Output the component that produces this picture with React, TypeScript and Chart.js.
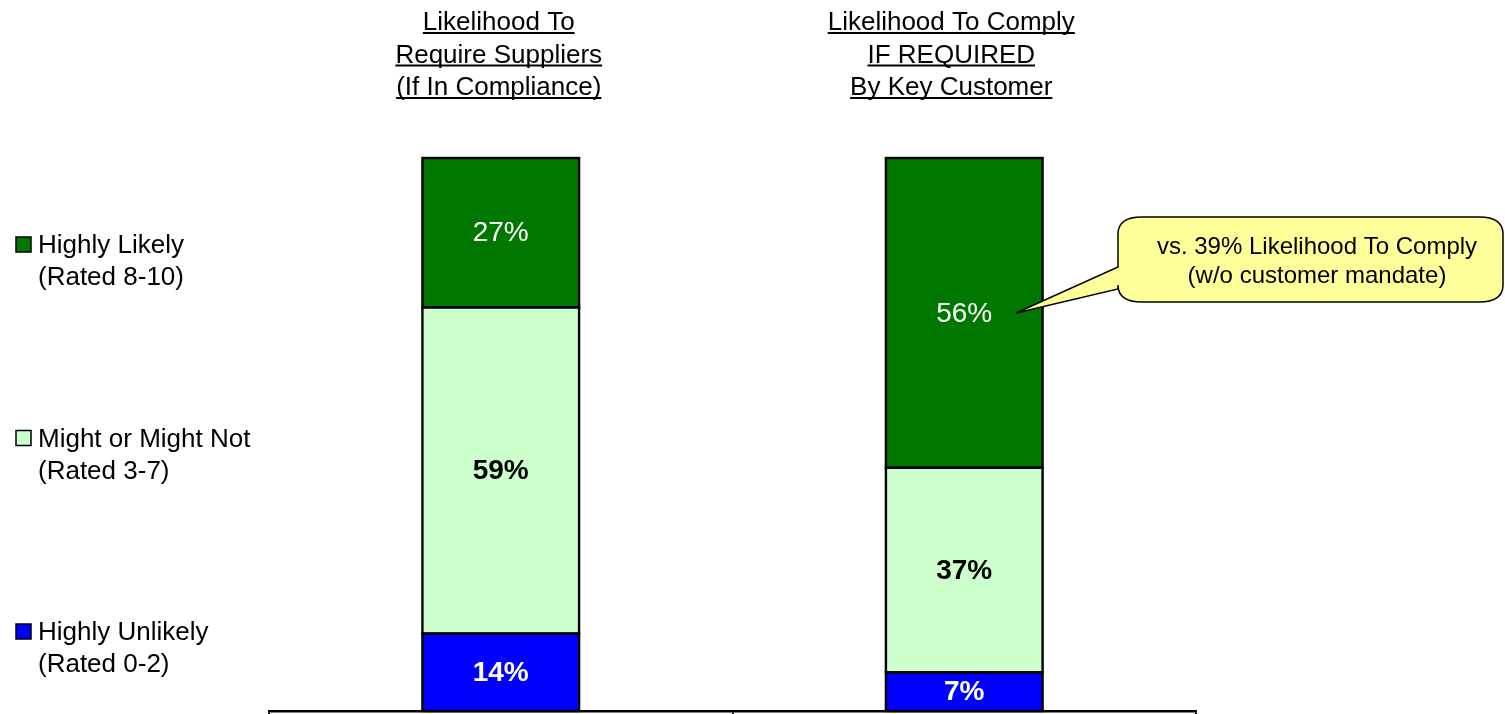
import React, { useEffect, useRef } from "react";
import { Chart, registerables } from "chart.js";

Chart.register(...registerables);

const categories = ["Likelihood To Require Suppliers (If In Compliance)", "Likelihood To Comply IF REQUIRED By Key Customer"];
const titleLines = [
  ["Likelihood To", "Require Suppliers", "(If In Compliance)"],
  ["Likelihood To Comply", "IF REQUIRED", "By Key Customer"],
];
const seriesNames = ["Highly Unlikely", "Might or Might Not", "Highly Likely"];
const seriesSubNames = ["(Rated 0-2)", "(Rated 3-7)", "(Rated 8-10)"];
const highlyUnlikely = [14, 7];
const mightOrMightNot = [59, 37];
const highlyLikely = [27, 56];
const calloutLines = ["vs. 39% Likelihood To Comply", "(w/o customer mandate)"];

const FONT = "'Liberation Sans', Arial, Helvetica, sans-serif";
const colors = ["#0000FF", "#CCFFCC", "#007800"];
const labelColors = ["#FFFFFF", "#000000", "#FFFFFF"];
const labelWeights = ["bold", "bold", "normal"];

const overlayPlugin = {
  id: "overlay",
  afterDatasetsDraw(chart: any) {
    const ctx = chart.ctx;
    const xs = chart.scales.x;
    ctx.save();
    // bar outlines (shared edges drawn once, centred on the boundary)
    chart.data.datasets.forEach((ds: any, i: number) => {
      const meta = chart.getDatasetMeta(i);
      meta.data.forEach((el: any) => {
        const p = el.getProps(["x", "y", "base", "width"], true);
        ctx.strokeStyle = "#000";
        ctx.lineWidth = 2.4;
        ctx.strokeRect(p.x - p.width / 2, p.y, p.width, p.base - p.y);
      });
    });
    // data labels
    chart.data.datasets.forEach((ds: any, i: number) => {
      const meta = chart.getDatasetMeta(i);
      meta.data.forEach((el: any, j: number) => {
        const p = el.getProps(["x", "y", "base"], true);
        ctx.font = `${labelWeights[i]} 28px ${FONT}`;
        ctx.fillStyle = labelColors[i];
        ctx.textAlign = "center";
        ctx.textBaseline = "middle";
        ctx.fillText(`${ds.data[j]}%`, p.x, (p.y + p.base) / 2 + 1);
      });
    });

    // titles (underlined)
    const titleOffsets = [-2, -13];
    titleLines.forEach((lines, i) => {
      const cx = xs.getPixelForValue(i) + titleOffsets[i];
      lines.forEach((t, k) => {
        const by = 30 + k * 32.5;
        ctx.font = `26px ${FONT}`;
        ctx.fillStyle = "#000";
        ctx.textAlign = "center";
        ctx.textBaseline = "alphabetic";
        ctx.fillText(t, cx, by);
        const w = ctx.measureText(t).width;
        ctx.fillRect(cx - w / 2, by + 2, w, 2);
      });
    });

    // legend (top to bottom: reverse of stack order)
    const legendBase = [640, 446.5, 253];
    for (let i = 0; i < seriesNames.length; i++) {
      const by = legendBase[i];
      ctx.fillStyle = colors[i];
      ctx.fillRect(16, by - 16, 15, 15);
      ctx.strokeStyle = "#000";
      ctx.lineWidth = 1.5;
      ctx.strokeRect(16, by - 16, 15, 15);
      ctx.fillStyle = "#000";
      ctx.font = `26px ${FONT}`;
      ctx.textAlign = "left";
      ctx.textBaseline = "alphabetic";
      ctx.fillText(seriesNames[i], 38, by);
      ctx.fillText(seriesSubNames[i], 38, by + 32);
    }

    // callout
    const L = 1118, R = 1503, T = 217, B = 302, rx = 24, ry = 17;
    const tipX = 1016, tipY = 313, y1 = 267, y2 = 289;
    ctx.beginPath();
    ctx.moveTo(L + rx, T);
    ctx.lineTo(R - rx, T);
    ctx.quadraticCurveTo(R, T, R, T + ry);
    ctx.lineTo(R, B - ry);
    ctx.quadraticCurveTo(R, B, R - rx, B);
    ctx.lineTo(L + rx, B);
    ctx.quadraticCurveTo(L, B, L, B - ry);
    ctx.lineTo(L, y2);
    ctx.lineTo(tipX, tipY);
    ctx.lineTo(L, y1);
    ctx.lineTo(L, T + ry);
    ctx.quadraticCurveTo(L, T, L + rx, T);
    ctx.closePath();
    ctx.fillStyle = "#FFFF99";
    ctx.fill();
    ctx.strokeStyle = "#000";
    ctx.lineWidth = 1.5;
    ctx.stroke();
    ctx.fillStyle = "#000";
    ctx.font = `24px ${FONT}`;
    ctx.textAlign = "center";
    ctx.textBaseline = "alphabetic";
    ctx.fillText(calloutLines[0], 1317, 254);
    ctx.fillText(calloutLines[1], 1317, 283);
    ctx.restore();
  },
};

export default function App() {
  const ref = useRef<HTMLCanvasElement | null>(null);
  useEffect(() => {
    document.body.style.margin = "0";
    const canvas = ref.current!;
    const chart = new Chart(canvas, {
      type: "bar",
      data: {
        labels: categories,
        datasets: [
          { label: seriesNames[0], data: highlyUnlikely, backgroundColor: colors[0] },
          { label: seriesNames[1], data: mightOrMightNot, backgroundColor: colors[1] },
          { label: seriesNames[2], data: highlyLikely, backgroundColor: colors[2] },
        ].map((d) => ({
          ...d,
          borderWidth: 0,
          inflateAmount: 0,
          barPercentage: 0.338,
          categoryPercentage: 1,
        })),
      },
      options: {
        responsive: false,
        animation: false,
        layout: { padding: { left: 269, right: 309, top: 158, bottom: 9 } },
        plugins: { legend: { display: false }, tooltip: { enabled: false } },
        scales: {
          x: {
            stacked: true,
            ticks: { display: false },
            grid: {
              offset: true,
              drawOnChartArea: false,
              drawTicks: true,
              tickLength: 10,
              color: "#000",
              lineWidth: 2,
            },
            border: { display: true, color: "#000", width: 2.5 },
          },
          y: {
            stacked: true,
            display: false,
            min: 0,
            max: 100,
          },
        },
      },
      plugins: [overlayPlugin],
    });
    return () => chart.destroy();
  }, []);
  return (
    <div style={{ position: "fixed", left: 0, top: 0, width: 1505, height: 714, overflow: "hidden", background: "#fff" }}>
      <canvas ref={ref} width={1505} height={730} style={{ display: "block", width: 1505, height: 730 }} />
    </div>
  );
}
